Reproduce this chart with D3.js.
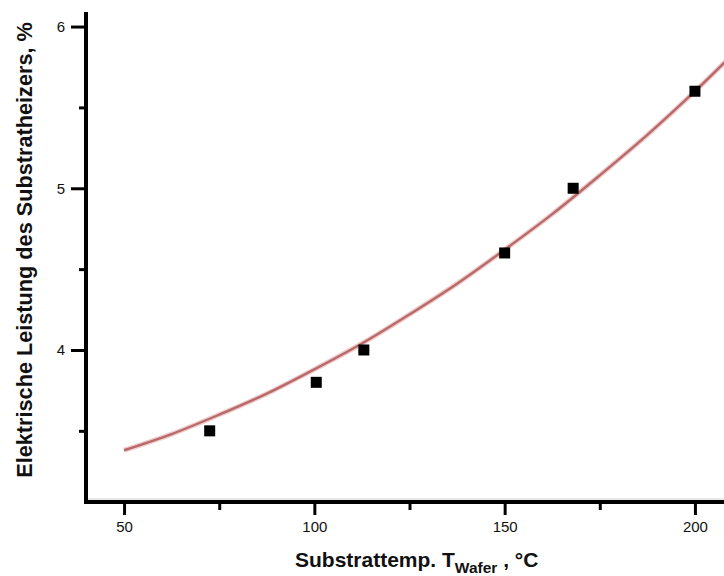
<!DOCTYPE html>
<html>
<head>
<meta charset="utf-8" />
<title>Elektrische Leistung des Substratheizers</title>
<script src="https://cdn.jsdelivr.net/npm/d3@7"></script>
<style>
	body { margin: 0; background: #fff; }
	svg { display: block; }
	.tick text { font-family: "Liberation Sans", Arial, sans-serif; font-size: 15px; fill: #111; }
	.title { font-family: "Liberation Sans", Arial, sans-serif; font-weight: bold; fill: #111; }
</style>
</head>
<body>
<script>
// Messpunkte (Substrattemperatur in °C, Leistung in %)
var tempWafer = [72.5, 100.5, 113, 150, 168, 200];
var leistung  = [3.5, 3.8, 4.0, 4.6, 5.0, 5.6];

// Fitkurve
var fitTemp     = [50, 62.5, 75, 87.5, 100, 112.5, 125, 137.5, 150, 162.5, 175, 187.5, 200, 210];
var fitLeistung = [3.38, 3.48, 3.60, 3.73, 3.88, 4.04, 4.22, 4.41, 4.62, 4.84, 5.08, 5.33, 5.60, 5.83];

// Achsenbeschriftung
var xTicks = [50, 100, 150, 200];
var xMinor = [75, 125, 175];
var yTicks = [4, 5, 6];
var yMinor = [3.5, 4.5, 5.5];

var width = 724, height = 576;

var svg = d3.select("body")
	.append("svg")
	.attr("width", width)
	.attr("height", height);

var x = d3.scaleLinear().domain([40, 210]).range([86, 733]);
var y = d3.scaleLinear().domain([3.06, 6.09]).range([502, 12]);

// leichte Schattenlinie über der x-Achse
svg.append("line")
	.attr("x1", x(40)).attr("x2", width)
	.attr("y1", 499).attr("y2", 499)
	.attr("stroke", "#d0d0d0").attr("stroke-width", 1);

// Fitkurve
var fit = fitTemp.map(function (t, i) { return [t, fitLeistung[i]]; });
var line = d3.line()
	.x(function (d) { return x(d[0]); })
	.y(function (d) { return y(d[1]); })
	.curve(d3.curveCatmullRom);

svg.append("path")
	.attr("d", line(fit))
	.attr("fill", "none")
	.attr("stroke", "#f0cccc")
	.attr("stroke-width", 5);
svg.append("path")
	.attr("d", line(fit))
	.attr("fill", "none")
	.attr("stroke", "#b86a6a")
	.attr("stroke-width", 2.4);

// Punkte
var s = 11;
svg.selectAll(".pt")
	.data(tempWafer)
	.enter().append("rect")
	.attr("class", "pt")
	.attr("x", function (d) { return x(d) - s / 2; })
	.attr("y", function (d, i) { return y(leistung[i]) - s / 2; })
	.attr("width", s)
	.attr("height", s)
	.attr("fill", "#000");

// Y-Achse
var gy = svg.append("g").attr("transform", "translate(" + x(40) + ",0)");
gy.call(d3.axisLeft(y).tickValues(yTicks).tickSize(15).tickPadding(6).tickFormat(d3.format("d")));
gy.append("g").call(d3.axisLeft(y).tickValues(yMinor).tickSize(7).tickFormat(""));
gy.selectAll(".domain").remove();
gy.selectAll(".tick line").attr("stroke", "#000").attr("stroke-width", 3);

// X-Achse
var gx = svg.append("g").attr("transform", "translate(0," + y(3.06) + ")");
gx.call(d3.axisBottom(x).tickValues(xTicks).tickSize(13).tickPadding(6).tickFormat(d3.format("d")));
gx.append("g").call(d3.axisBottom(x).tickValues(xMinor).tickSize(8).tickFormat(""));
gx.selectAll(".domain").remove();
gx.selectAll(".tick line").attr("stroke", "#000").attr("stroke-width", 3);

// Achsenlinien
svg.append("path")
	.attr("d", "M" + x(40) + "," + y(6.09) + "V" + y(3.06) + "H" + width)
	.attr("fill", "none")
	.attr("stroke", "#000")
	.attr("stroke-width", 4);

// Achsentitel
svg.append("text")
	.attr("class", "title")
	.attr("transform", "translate(32,250) rotate(-90)")
	.attr("text-anchor", "middle")
	.style("font-size", "21.7px")
	.text("Elektrische Leistung des Substratheizers, %");

var xt = svg.append("text")
	.attr("class", "title")
	.attr("x", 295)
	.attr("y", 567)
	.style("font-size", "21px");
xt.append("tspan").text("Substrattemp. T");
xt.append("tspan").attr("dy", 6).style("font-size", "15.5px").text("Wafer");
xt.append("tspan").attr("dy", -6).text(" , °C");
</script>
</body>
</html>
